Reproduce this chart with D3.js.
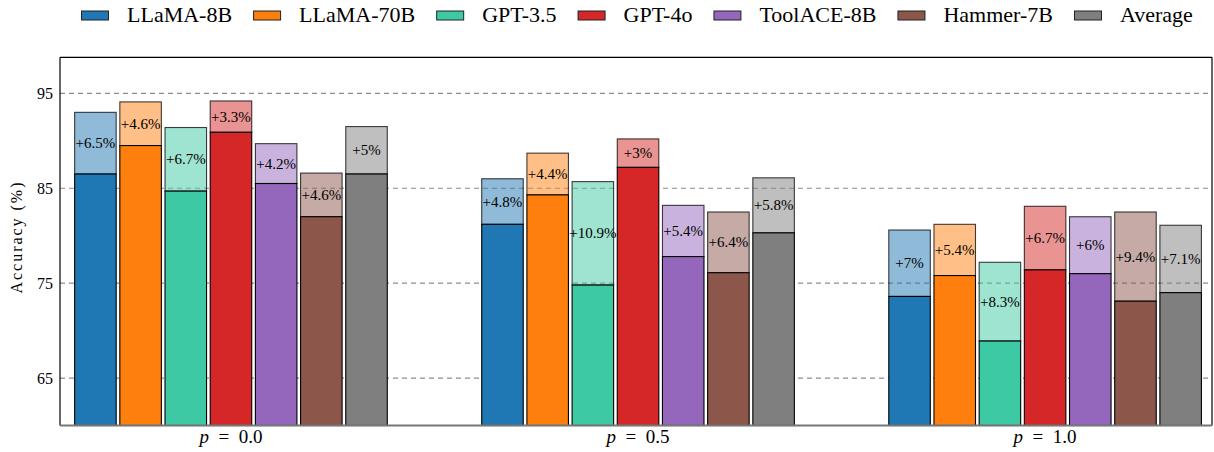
<!DOCTYPE html>
<html>
<head>
<meta charset="utf-8">
<script src="https://cdn.jsdelivr.net/npm/d3@7"></script>
<style>
  html, body { margin: 0; padding: 0; background: #fff; }
  svg { display: block; font-family: 'Liberation Serif', 'DejaVu Serif', serif; }
</style>
</head>
<body>
<svg id="chart" width="1214" height="452"></svg>
<script>
// ---- data ----
const groups = ["0.0", "0.5", "1.0"];
const models = ["LLaMA-8B", "LLaMA-70B", "GPT-3.5", "GPT-4o", "ToolACE-8B", "Hammer-7B", "Average"];
const colors = ["#1f77b4", "#ff7f0e", "#3dc9a4", "#d62728", "#9467bd", "#8c564b", "#7f7f7f"];
const baseP00 = [86.5, 89.5, 84.7, 90.9, 85.5, 82.0, 86.5];
const gainP00 = [6.5, 4.6, 6.7, 3.3, 4.2, 4.6, 5.0];
const baseP05 = [81.2, 84.3, 74.8, 87.2, 77.8, 76.1, 80.3];
const gainP05 = [4.8, 4.4, 10.9, 3.0, 5.4, 6.4, 5.8];
const baseP10 = [73.6, 75.8, 68.9, 76.4, 76.0, 73.1, 74.0];
const gainP10 = [7.0, 5.4, 8.3, 6.7, 6.0, 9.4, 7.1];
const yTicks = [65, 75, 85, 95];
const yLabel = "Accuracy (%)";

const bases = [baseP00, baseP05, baseP10];
const gains = [gainP00, gainP05, gainP10];
const FONT = "'Liberation Serif', 'DejaVu Serif', serif";

// ---- layout ----
const svg = d3.select("#chart");
const L = 60, R = 1212, T = 57.3, B = 425.5;
const x = d3.scaleLinear().domain([-0.42, 2.41]).range([L, R]);
const y = d3.scaleLinear().domain([60, 98.8]).range([B, T]);
const pitch = 0.111, bw = 0.102;

// grid
svg.append("g").selectAll("line").data(yTicks).join("line")
  .attr("x1", L).attr("x2", R)
  .attr("y1", d => y(d)).attr("y2", d => y(d))
  .attr("stroke", "#8c8c8c").attr("stroke-width", 1.2)
  .attr("stroke-dasharray", "5,4");

// bars
const rows = [];
groups.forEach((g, gi) => {
  models.forEach((m, mi) => {
    rows.push({gi, mi, base: bases[gi][mi], gain: gains[gi][mi]});
  });
});
const xPos = d => x(d.gi + (d.mi - 3) * pitch - bw / 2);
const wPx = x(bw) - x(0);

const bars = svg.append("g");
bars.selectAll("rect.light").data(rows).join("rect")
  .attr("class", "light")
  .attr("x", xPos).attr("width", wPx)
  .attr("y", d => y(d.base + d.gain))
  .attr("height", d => y(d.base) - y(d.base + d.gain))
  .attr("fill", d => colors[d.mi]).attr("fill-opacity", 0.5)
  .attr("stroke", "#000").attr("stroke-opacity", 0.75).attr("stroke-width", 1.1);
bars.selectAll("rect.base").data(rows).join("rect")
  .attr("class", "base")
  .attr("x", xPos).attr("width", wPx)
  .attr("y", d => y(d.base))
  .attr("height", d => B - y(d.base))
  .attr("fill", d => colors[d.mi])
  .attr("stroke", "#000").attr("stroke-width", 1.1);

bars.selectAll("text").data(rows).join("text")
  .attr("x", d => x(d.gi + (d.mi - 3) * pitch))
  .attr("y", d => y(d.base + d.gain / 2) + 5)
  .attr("text-anchor", "middle")
  .attr("font-family", FONT).attr("font-size", 15)
  .text(d => "+" + (+d.gain) + "%");

// spines
svg.append("line").attr("x1", L).attr("x2", R).attr("y1", T).attr("y2", T).attr("stroke", "#000").attr("stroke-width", 1.2);
svg.append("line").attr("x1", L).attr("x2", L).attr("y1", T).attr("y2", B).attr("stroke", "#000").attr("stroke-width", 1.2);
svg.append("line").attr("x1", R).attr("x2", R).attr("y1", T).attr("y2", B).attr("stroke", "#000").attr("stroke-width", 1.2);
svg.append("line").attr("x1", L).attr("x2", R).attr("y1", B).attr("y2", B).attr("stroke", "#777").attr("stroke-width", 2);

// y ticks
svg.append("g").selectAll("text").data(yTicks).join("text")
  .attr("x", 53).attr("y", d => y(d) + 5.5)
  .attr("text-anchor", "end")
  .attr("font-family", FONT).attr("font-size", 16)
  .text(d => d);

// y label
svg.append("text")
  .attr("transform", "translate(22,238) rotate(-90)")
  .attr("text-anchor", "middle")
  .attr("font-family", FONT).attr("font-size", 16)
  .attr("textLength", 111).attr("lengthAdjust", "spacing")
  .text(yLabel);

// x labels
groups.forEach((g, gi) => {
  const t = svg.append("text")
    .attr("x", x(gi)).attr("y", 443)
    .attr("text-anchor", "middle")
    .attr("font-family", FONT).attr("font-size", 19);
  t.append("tspan").attr("font-style", "italic").text("p");
  t.append("tspan").text("\u2002=\u2002" + g);
});

// legend
const leg = svg.append("g");
let lx = 81.5;
models.forEach((m, i) => {
  leg.append("rect").attr("x", lx).attr("y", 11).attr("width", 27).attr("height", 9)
    .attr("fill", colors[i]).attr("stroke", "#222").attr("stroke-width", 1);
  const t = leg.append("text").attr("x", lx + 45.5).attr("y", 22)
    .attr("font-family", FONT).attr("font-size", 22).text(m);
  lx = lx + 45.5 + t.node().getComputedTextLength() + 21.5;
});
</script>
</body>
</html>
